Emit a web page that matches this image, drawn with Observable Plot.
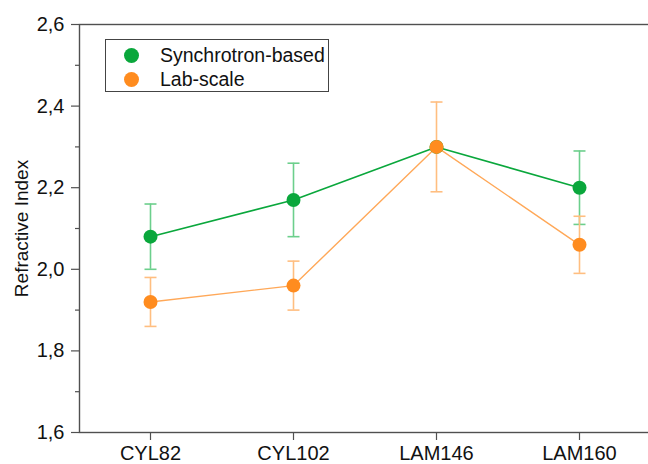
<!DOCTYPE html>
<html>
<head>
<meta charset="utf-8">
<script src="https://cdn.jsdelivr.net/npm/d3@7"></script>
<script src="https://cdn.jsdelivr.net/npm/@observablehq/plot@0.6"></script>
<style>
  html, body { margin: 0; padding: 0; background: #fff; }
  #wrap { position: relative; width: 648px; height: 464px; font-family: "Liberation Sans", Arial, sans-serif; }
  #legend { position: absolute; left: 105px; top: 39px; width: 224px; height: 53px; border: 1.3px solid #444; box-sizing: border-box; background: #fff; }
  .item { position: absolute; left: 0; height: 24px; display: flex; align-items: center; font-size: 19.5px; color: #111; }
  .sw { width: 15px; height: 15px; border-radius: 50%; margin-left: 18px; margin-right: 21px; }
</style>
</head>
<body>
<div id="wrap">
  <div id="chart"></div>
  <div id="legend"></div>
</div>
<script>
const categories = ["CYL82", "CYL102", "LAM146", "LAM160"];
const seriesNames = ["Synchrotron-based", "Lab-scale"];
const synchrotron = [2.08, 2.17, 2.30, 2.20];
const synchrotronErr = [0.08, 0.09, 0, 0.09];
const labScale = [1.92, 1.96, 2.30, 2.06];
const labScaleErr = [0.06, 0.06, 0.11, 0.07];
const yTicks = [1.6, 1.8, 2.0, 2.2, 2.4, 2.6];
const yMinor = [1.7, 1.9, 2.1, 2.3, 2.5];

const colors = {"Synchrotron-based": "#0aa73c", "Lab-scale": "#ff8c1f"};
const errColors = {"Synchrotron-based": "#6ccf8c", "Lab-scale": "#ffbe80"};

const rows = [];
categories.forEach((c, i) => {
  rows.push({cat: c, series: seriesNames[0], v: synchrotron[i], e: synchrotronErr[i]});
});
categories.forEach((c, i) => {
  rows.push({cat: c, series: seriesNames[1], v: labScale[i], e: labScaleErr[i]});
});
const syn = rows.filter(d => d.series === seriesNames[0]);
const lab = rows.filter(d => d.series === seriesNames[1]);

const capSymbol = {
  draw(ctx, size) {
    const w = Math.sqrt(size / Math.PI);
    ctx.moveTo(-w, 0);
    ctx.lineTo(w, 0);
  }
};

function errMarks(data, s) {
  const d2 = data.filter(d => d.e > 0);
  return [
    Plot.ruleX(d2, {x: "cat", y1: d => d.v - d.e, y2: d => d.v + d.e, stroke: errColors[s], strokeWidth: 1.6}),
    Plot.dot(d2, {x: "cat", y: d => d.v + d.e, symbol: capSymbol, r: 6, stroke: errColors[s], strokeWidth: 1.6, fill: "none"}),
    Plot.dot(d2, {x: "cat", y: d => d.v - d.e, symbol: capSymbol, r: 6, stroke: errColors[s], strokeWidth: 1.6, fill: "none"})
  ];
}

const fmt = v => v.toFixed(1).replace(".", ",");

const chart = Plot.plot({
  width: 648,
  height: 464,
  marginLeft: 79,
  marginRight: -3,
  marginTop: 24,
  marginBottom: 32,
  style: {fontFamily: "'Liberation Sans', Arial, sans-serif", fontSize: "20px", background: "#fff", overflow: "visible"},
  x: {type: "point", domain: categories, range: [150, 579], padding: 0},
  y: {domain: [1.6, 2.6], range: [432, 24]},
  marks: [
    Plot.frame({stroke: "#505050", strokeWidth: 1.4}),
    Plot.axisY(yTicks, {tickSize: 8, tickPadding: 7, tickFormat: fmt, fontSize: 20, fill: "#111", stroke: "#505050", strokeWidth: 1.2, label: null}),
    Plot.axisY(yMinor, {tickSize: 4, tickFormat: () => "", stroke: "#505050", strokeWidth: 1.2, label: null}),
    Plot.axisX(categories, {tickSize: 8, tickPadding: 5, fontSize: 20, fill: "#111", stroke: "#505050", strokeWidth: 1.2, label: null}),
    Plot.text(["Refractive Index"], {frameAnchor: "left", dx: -52, dy: 0, rotate: -90, fontSize: 19, fill: "#111", textAnchor: "middle", lineAnchor: "bottom"}),
    ...errMarks(syn, seriesNames[0]),
    ...errMarks(lab, seriesNames[1]),
    Plot.line(syn, {x: "cat", y: "v", stroke: colors[seriesNames[0]], strokeWidth: 1.6}),
    Plot.line(lab, {x: "cat", y: "v", stroke: "#ffa858", strokeWidth: 1.4}),
    Plot.dot(syn, {x: "cat", y: "v", r: 7, fill: colors[seriesNames[0]], stroke: "none"}),
    Plot.dot(lab, {x: "cat", y: "v", r: 7, fill: colors[seriesNames[1]], stroke: "none"})
  ]
});
document.getElementById("chart").appendChild(chart);

const legend = document.getElementById("legend");
seriesNames.forEach((s, i) => {
  const it = document.createElement("div");
  it.className = "item";
  it.style.top = (3 + i * 24) + "px";
  const sw = document.createElement("div");
  sw.className = "sw";
  sw.style.background = colors[s];
  const t = document.createElement("span");
  t.textContent = s;
  it.appendChild(sw);
  it.appendChild(t);
  legend.appendChild(it);
});
</script>
</body>
</html>
